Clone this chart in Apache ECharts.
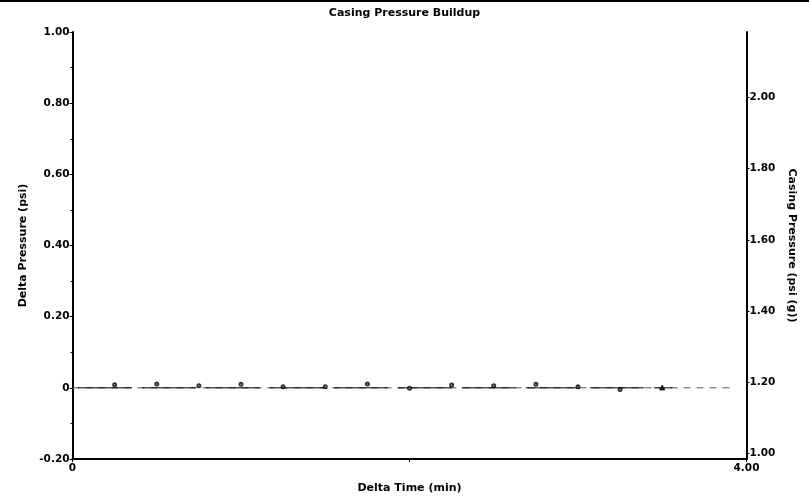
<!DOCTYPE html>
<html>
<head>
<meta charset="utf-8">
<script src="https://cdn.jsdelivr.net/npm/echarts@6/dist/echarts.min.js"></script>
<style>
html,body{margin:0;padding:0;background:#fff;}
#c{width:809px;height:499px;}
</style>
</head>
<body>
<div id="c"></div>
<script>
// Data
var pointTimes = [0.25, 0.50, 0.75, 1.00, 1.25, 1.50, 1.75, 2.00, 2.25, 2.50, 2.75, 3.00, 3.25, 3.50];
var casingPressure = [1.193, 1.195, 1.190, 1.194, 1.187, 1.187, 1.195, 1.183, 1.192, 1.190, 1.194, 1.187, 1.179, 1.185];
var deltaLineTimes = [0.02, 3.56];
var deltaLineValues = [0, 0];
var baselineTimes = [0, 3.93];
var baselineValues = [0, 0];
var rightTickValues = [1.00, 1.20, 1.40, 1.60, 1.80, 2.00];
var bottomLabelValues = [0, 4];

var FONT = '"DejaVu Sans", Verdana, sans-serif';

function pairs(xs, ys) { return xs.map(function (x, i) { return [x, ys[i]]; }); }

var pointData = pairs(pointTimes, casingPressure).map(function (p, i, arr) {
  if (i === arr.length - 1) return { value: p, symbol: 'triangle', symbolSize: 5, itemStyle: { color: '#000' } };
  return { value: p };
});

var nameStyle = { fontFamily: FONT, fontSize: 11, fontWeight: 'bold', color: '#000' };
var labelBase = { fontFamily: FONT, fontSize: 10.5, fontWeight: 'bold', color: '#000' };

var chart = echarts.init(document.getElementById('c'), null, { renderer: 'canvas' });
chart.setOption({
  animation: false,
  backgroundColor: '#fff',
  title: {
    text: 'Casing Pressure Buildup',
    left: 'center',
    top: 3,
    textStyle: { fontFamily: FONT, fontSize: 11, fontWeight: 'bold', color: '#000' }
  },
  graphic: [{
    type: 'line',
    shape: { x1: 0, y1: 1, x2: 809, y2: 1 },
    style: { stroke: '#000', lineWidth: 2 }
  }],
  grid: { left: 72.5, right: 62.5, top: 32, bottom: 40 },
  xAxis: {
    type: 'value',
    min: 0, max: 4, interval: 2,
    name: 'Delta Time (min)',
    nameLocation: 'middle',
    nameGap: 24,
    nameTextStyle: nameStyle,
    axisLine: { show: true, onZero: false, lineStyle: { color: '#000', width: 2 } },
    axisTick: { show: true, length: 3, lineStyle: { color: '#000' } },
    splitLine: { show: false },
    axisLabel: Object.assign({
      customValues: bottomLabelValues,
      margin: 4,
      formatter: function (v) { return v === 0 ? '0' : v.toFixed(2); }
    }, labelBase)
  },
  yAxis: [{
    type: 'value',
    min: -0.2, max: 1.0, interval: 0.2,
    position: 'left',
    name: 'Delta Pressure (psi)',
    nameLocation: 'middle',
    nameGap: 44,
    nameRotate: 90,
    nameTextStyle: nameStyle,
    axisLine: { show: true, onZero: false, lineStyle: { color: '#000', width: 2 } },
    axisTick: { show: true, length: 3, lineStyle: { color: '#000' } },
    minorTick: { show: true, splitNumber: 2, length: 2, lineStyle: { color: '#000' } },
    splitLine: { show: false },
    axisLabel: Object.assign({
      margin: 3,
      formatter: function (v) { return Math.abs(v) < 1e-9 ? '0' : v.toFixed(2); }
    }, labelBase)
  }, {
    type: 'value',
    min: 0.984, max: 2.184,
    position: 'right',
    name: 'Casing Pressure (psi (g))',
    nameLocation: 'middle',
    nameGap: 38,
    nameRotate: -90,
    nameTextStyle: nameStyle,
    axisLine: { show: true, onZero: false, lineStyle: { color: '#000', width: 2 } },
    axisTick: { show: true, length: 3, customValues: rightTickValues, lineStyle: { color: '#000' } },
    splitLine: { show: false },
    axisLabel: Object.assign({
      customValues: rightTickValues,
      margin: 3,
      formatter: function (v) { return v.toFixed(2); }
    }, labelBase)
  }],
  series: [{
    type: 'line',
    yAxisIndex: 0,
    data: pairs(baselineTimes, baselineValues),
    symbol: 'none',
    lineStyle: { color: '#555', width: 1, type: [7, 6] },
    z: 2
  }, {
    type: 'line',
    yAxisIndex: 0,
    data: pairs(deltaLineTimes, deltaLineValues),
    symbol: 'none',
    lineStyle: { color: '#000', width: 1, type: [54, 10], dashOffset: -2 },
    z: 3
  }, {
    type: 'scatter',
    yAxisIndex: 1,
    data: pointData,
    symbol: 'emptyCircle',
    symbolSize: 3,
    itemStyle: { color: '#000', borderColor: '#000', borderWidth: 1 },
    z: 4
  }]
});
</script>
</body>
</html>
